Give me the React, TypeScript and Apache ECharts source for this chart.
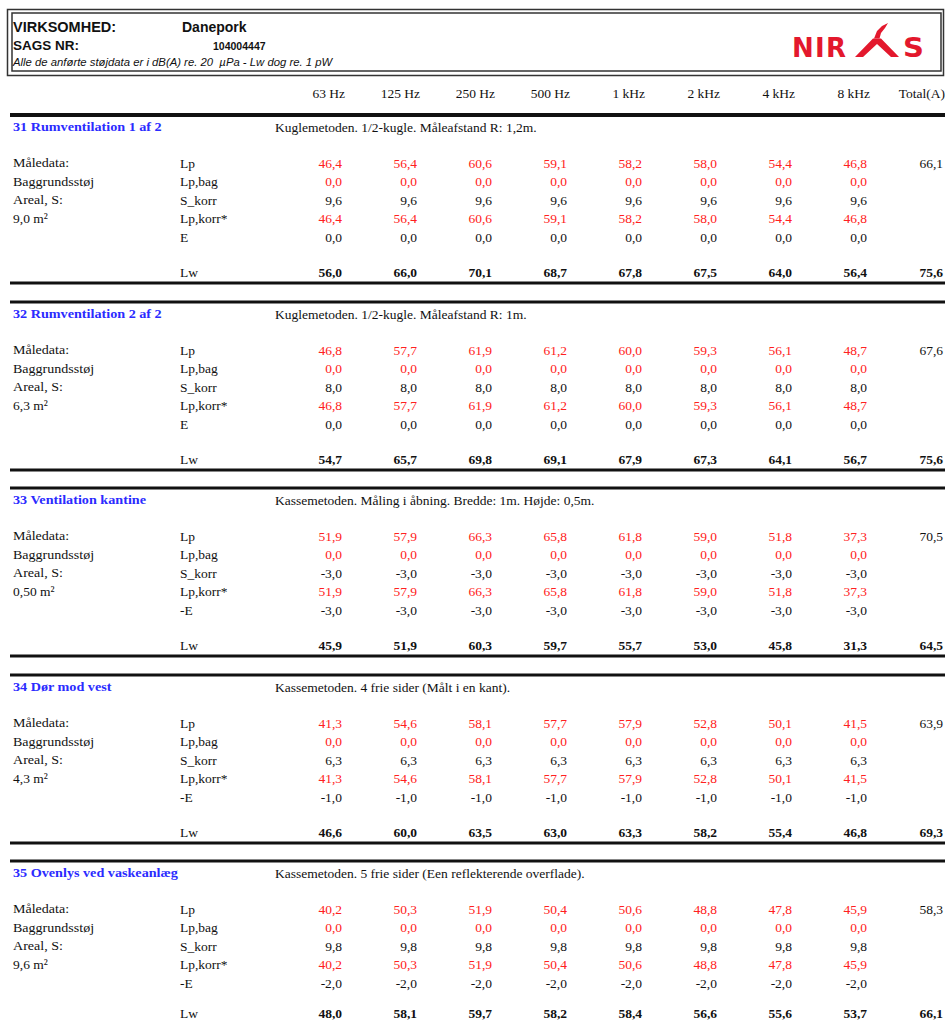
import React, { useEffect, useRef } from "react";
import * as echarts from "echarts";

// ---------- Data ----------
const FREQ_LABELS = ["63 Hz", "125 Hz", "250 Hz", "500 Hz", "1 kHz", "2 kHz", "4 kHz", "8 kHz"];
const TOTAL_LABEL = "Total(A)";
const ROW_LABELS = ["Lp", "Lp,bag", "S_korr", "Lp,korr*"];
const LEFT_LABELS = ["Måledata:", "Baggrundsstøj", "Areal, S:"];
const LW_LABEL = "Lw";

const COMPANY = "Danepork";
const CASE_NO = "104004447";
const NOTE = "Alle de anførte støjdata er i dB(A) re. 20  µPa - Lw dog re. 1 pW";

const SECTION_TITLES = [
  "31 Rumventilation 1 af 2",
  "32 Rumventilation 2 af 2",
  "33 Ventilation kantine",
  "34 Dør mod vest",
  "35 Ovenlys ved vaskeanlæg",
];
const SECTION_METHODS = [
  "Kuglemetoden. 1/2-kugle. Måleafstand R: 1,2m.",
  "Kuglemetoden. 1/2-kugle. Måleafstand R: 1m.",
  "Kassemetoden. Måling i åbning. Bredde: 1m. Højde: 0,5m.",
  "Kassemetoden. 4 frie sider (Målt i en kant).",
  "Kassemetoden. 5 frie sider (Een reflekterende overflade).",
];
const SECTION_AREAS = ["9,0 m²", "6,3 m²", "0,50 m²", "4,3 m²", "9,6 m²"];
const E_LABELS = ["E", "E", "-E", "-E", "-E"];

const LP_31 = [46.4, 56.4, 60.6, 59.1, 58.2, 58.0, 54.4, 46.8];
const LP_32 = [46.8, 57.7, 61.9, 61.2, 60.0, 59.3, 56.1, 48.7];
const LP_33 = [51.9, 57.9, 66.3, 65.8, 61.8, 59.0, 51.8, 37.3];
const LP_34 = [41.3, 54.6, 58.1, 57.7, 57.9, 52.8, 50.1, 41.5];
const LP_35 = [40.2, 50.3, 51.9, 50.4, 50.6, 48.8, 47.8, 45.9];
const LP_TOTALS = [66.1, 67.6, 70.5, 63.9, 58.3];

const LP_BAG = [0, 0, 0, 0, 0, 0, 0, 0];

const S_KORR = [9.6, 8.0, -3.0, 6.3, 9.8];
const E_VALUES = [0.0, 0.0, -3.0, -1.0, -2.0];

const LW_31 = [56.0, 66.0, 70.1, 68.7, 67.8, 67.5, 64.0, 56.4];
const LW_32 = [54.7, 65.7, 69.8, 69.1, 67.9, 67.3, 64.1, 56.7];
const LW_33 = [45.9, 51.9, 60.3, 59.7, 55.7, 53.0, 45.8, 31.3];
const LW_34 = [46.6, 60.0, 63.5, 63.0, 63.3, 58.2, 55.4, 46.8];
const LW_35 = [48.0, 58.1, 59.7, 58.2, 58.4, 56.6, 55.6, 53.7];
const LW_TOTALS = [75.6, 75.6, 64.5, 69.3, 66.1];

const LP_ALL = [LP_31, LP_32, LP_33, LP_34, LP_35];
const LW_ALL = [LW_31, LW_32, LW_33, LW_34, LW_35];

// ---------- Layout ----------
const W = 945;
const H = 1023;
const COL_RIGHT = [342, 417, 492, 567, 642, 717, 792, 867];
const TOTAL_RIGHT = 943;
const SECTION_TOPS = [115, 302, 488, 675, 861];
const SERIF = "'Liberation Serif', 'Times New Roman', serif";
const SANS = "'Liberation Sans', Arial, sans-serif";
const RED = "#ff2020";
const BLUE = "#2b2bff";
const LOGO_RED = "#e3182d";
const FS = 13.5;

const fmt = (v: number) => v.toFixed(1).replace(".", ",");

function txt(x: number, y: number, text: string, opts: any = {}) {
  return {
    type: "text",
    x,
    y,
    silent: true,
    scaleX: opts.scaleX ?? 1,
    style: {
      text,
      fill: opts.fill ?? "#111",
      font: opts.font ?? `${FS}px ${SERIF}`,
      align: opts.align ?? "left",
      verticalAlign: "middle",
      textAlign: opts.align ?? "left",
      textVerticalAlign: "middle",
    },
  };
}

function hline(y: number, w: number, color = "#111") {
  return {
    type: "line",
    silent: true,
    shape: { x1: 10, y1: y, x2: W, y2: y },
    style: { stroke: color, lineWidth: w },
  };
}

function buildGraphics() {
  const els: any[] = [];
  // Header frame
  els.push({ type: "rect", silent: true, shape: { x: 7.5, y: 9.5, width: 936, height: 66 }, style: { fill: "none", stroke: "#333", lineWidth: 1.5 } });
  els.push({ type: "rect", silent: true, shape: { x: 12, y: 13, width: 929, height: 58 }, style: { fill: "none", stroke: "#333", lineWidth: 1.5 } });
  els.push(txt(13, 27, "VIRKSOMHED:", { font: `bold 14.5px ${SANS}` }));
  els.push(txt(182, 27, COMPANY, { font: `bold 14px ${SANS}` }));
  els.push(txt(13, 45, "SAGS NR:", { font: `bold 13.5px ${SANS}` }));
  els.push(txt(213, 46, CASE_NO, { font: `bold 10.5px ${SANS}` }));
  els.push(txt(13, 62, NOTE, { font: `italic 11px ${SANS}`, scaleX: 1.03 }));
  // NIRAS logo
  const logoFont = `900 26px 'DejaVu Sans', ${SANS}`;
  els.push(txt(792, 48, "N", { font: logoFont, fill: LOGO_RED }));
  els.push(txt(815, 48, "I", { font: logoFont, fill: LOGO_RED }));
  els.push(txt(826, 48, "R", { font: logoFont, fill: LOGO_RED }));
  els.push({
    type: "polygon",
    silent: true,
    shape: { points: [[855, 57], [873, 38.5], [881, 38.5], [899, 57], [891, 57], [877, 44], [863, 57]] },
    style: { fill: LOGO_RED },
  });
  els.push({
    type: "polygon",
    silent: true,
    shape: { points: [[874, 38.5], [877, 31], [882, 26], [888, 23], [885, 28], [881, 33], [879.5, 38.5]] },
    style: { fill: LOGO_RED },
  });
  els.push(txt(903, 48, "S", { font: logoFont, fill: LOGO_RED, scaleX: 1.12 }));

  // Column headers
  FREQ_LABELS.forEach((f, i) => els.push(txt(COL_RIGHT[i] + 3, 93, f, { align: "right" })));
  els.push(txt(TOTAL_RIGHT + 2, 93, TOTAL_LABEL, { align: "right" }));

  SECTION_TOPS.forEach((top, s) => {
    els.push(hline(top, s === 0 ? 4 : 3));
    els.push(hline(top + 168, 3));
    els.push(txt(13, top + 12, SECTION_TITLES[s], { font: `bold ${FS}px ${SERIF}`, fill: BLUE, scaleX: 1.05 }));
    els.push(txt(275, top + 12, SECTION_METHODS[s]));
    const rowY = (r: number) => top + 48 + r * 18.5;
    const lwY = Math.min(top + 157, H - 10);
    LEFT_LABELS.forEach((l, r) => els.push(txt(13, rowY(r), l, { scaleX: 1.04 })));
    els.push(txt(13, rowY(3), SECTION_AREAS[s]));
    ROW_LABELS.forEach((l, r) => els.push(txt(180, rowY(r), l)));
    els.push(txt(180, rowY(4), E_LABELS[s]));
    els.push(txt(180, lwY, LW_LABEL));
    const lp = LP_ALL[s];
    const lw = LW_ALL[s];
    for (let i = 0; i < 8; i++) {
      const x = COL_RIGHT[i];
      els.push(txt(x, rowY(0), fmt(lp[i]), { align: "right", fill: RED }));
      els.push(txt(x, rowY(1), fmt(LP_BAG[i]), { align: "right", fill: RED }));
      els.push(txt(x, rowY(2), fmt(S_KORR[s]), { align: "right" }));
      els.push(txt(x, rowY(3), fmt(lp[i]), { align: "right", fill: RED }));
      els.push(txt(x, rowY(4), fmt(E_VALUES[s]), { align: "right" }));
      els.push(txt(x, lwY, fmt(lw[i]), { align: "right", font: `bold ${FS}px ${SERIF}` }));
    }
    els.push(txt(TOTAL_RIGHT, rowY(0), fmt(LP_TOTALS[s]), { align: "right" }));
    els.push(txt(TOTAL_RIGHT, lwY, fmt(LW_TOTALS[s]), { align: "right", font: `bold ${FS}px ${SERIF}` }));
  });
  return els;
}

export default function App() {
  const ref = useRef<HTMLDivElement>(null);
  useEffect(() => {
    if (!ref.current) return;
    const chart = echarts.init(ref.current, undefined, { renderer: "svg" });
    chart.setOption({
      animation: false,
      backgroundColor: "#ffffff",
      graphic: { elements: buildGraphics() },
    });
    return () => chart.dispose();
  }, []);
  return (
    <div
      ref={ref}
      style={{ position: "fixed", left: 0, top: 0, width: W, height: H, background: "#fff" }}
    />
  );
}
